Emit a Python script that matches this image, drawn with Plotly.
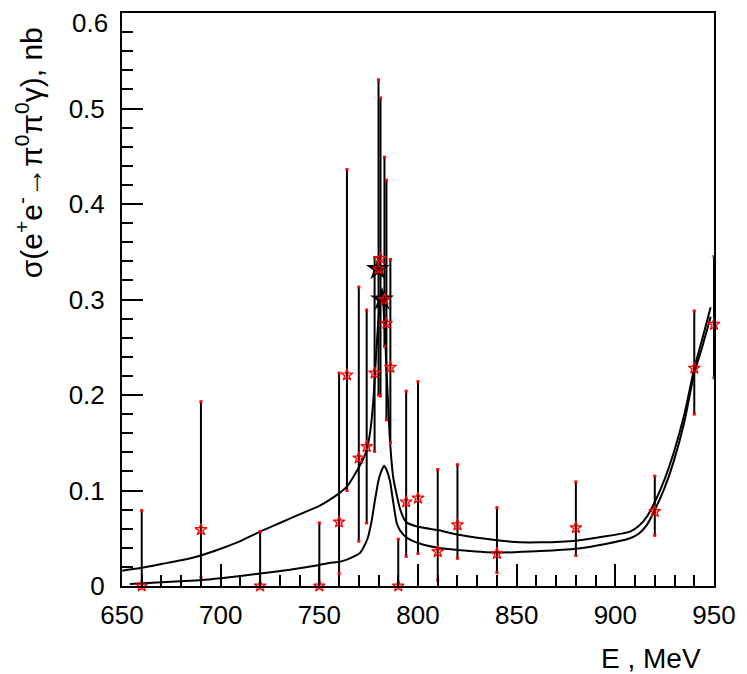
import plotly.graph_objects as go

# measured points: energy (MeV), cross section (nb), upper/lower ends of error bars
energy = [660, 690, 720, 750, 760, 764, 770, 774, 778, 780, 781, 783, 784, 786,
          790, 794, 800, 810, 820, 840, 880, 920, 940, 950]
sigma = [0, 0.059, 0, 0, 0.067, 0.221, 0.134, 0.146, 0.223, 0.332, 0.343, 0.300, 0.275, 0.229,
         0, 0.088, 0.092, 0.036, 0.064, 0.034, 0.061, 0.078, 0.228, 0.274]
sigma_hi = [0.079, 0.193, 0.057, 0.066, 0.223, 0.436, 0.313, 0.289, 0.344, 0.530, 0.511, 0.449, 0.425, 0.342,
            0.049, 0.204, 0.214, 0.122, 0.127, 0.082, 0.109, 0.115, 0.288, 0.345]
sigma_lo = [0, 0.009, 0, 0, 0.013, 0.100, 0.047, 0.066, 0.141, 0.200, 0.199, 0.251, 0.174, 0.150,
            0, 0.031, 0.034, 0.006, 0.029, 0.014, 0.032, 0.053, 0.180, 0.218]

# two large black stars near the omega peak
energy_b = [779.7, 781.8]
sigma_b = [0.332, 0.300]

# upper fit curve
e_up = [650, 660, 670, 680, 690, 700, 710, 720, 730, 740, 750, 755, 760, 764, 770, 774, 776,
        777.4, 778, 779, 780, 781, 782, 783, 784, 785, 785.8, 787.5, 791, 794, 800, 810, 820,
        840, 852, 862, 880, 895, 907.5, 912, 916, 920, 925, 929.5, 935, 940, 944, 948.3]
s_up = [0.016, 0.019, 0.023, 0.027, 0.032, 0.039, 0.047, 0.057, 0.066, 0.075, 0.084, 0.090, 0.097, 0.104,
        0.124, 0.142, 0.165, 0.195, 0.215, 0.250, 0.280, 0.298, 0.300, 0.275, 0.228, 0.185, 0.152, 0.113,
        0.080, 0.067, 0.062, 0.0586, 0.054, 0.048, 0.0457, 0.0457, 0.0475, 0.052, 0.057, 0.063, 0.0726,
        0.088, 0.112, 0.139, 0.180, 0.228, 0.258, 0.292]

# lower fit curve
e_lo = [654, 670, 689.5, 700, 720, 735, 750, 755, 760.5, 765.5, 770.6, 772.3, 774.5, 776.5, 778.2,
        779.9, 780.7, 782, 782.8, 784, 785.8, 787.5, 789.2, 791, 794, 800, 810, 820, 840, 862, 880,
        895, 907.5, 912, 916, 920, 925, 929.5, 935, 940, 944, 948.3]
s_lo = [0.002, 0.004, 0.006, 0.008, 0.013, 0.017, 0.022, 0.024, 0.0255, 0.029, 0.0345, 0.040, 0.050,
        0.068, 0.090, 0.110, 0.116, 0.123, 0.126, 0.122, 0.110, 0.087, 0.066, 0.058, 0.051, 0.045,
        0.040, 0.0377, 0.035, 0.0366, 0.039, 0.044, 0.050, 0.055, 0.064, 0.0796, 0.103, 0.130, 0.172,
        0.223, 0.250, 0.282]

x_ticks = [650, 700, 750, 800, 850, 900, 950]
y_ticks = [0, 0.1, 0.2, 0.3, 0.4, 0.5, 0.6]
y_labels = ["0", "0.1", "0.2", "0.3", "0.4", "0.5", "0.6"]

err_plus = [h - s for h, s in zip(sigma_hi, sigma)]
err_minus = [s - l for s, l in zip(sigma, sigma_lo)]

fig = go.Figure()

fig.add_trace(go.Scatter(x=e_up, y=s_up, mode="lines", line_shape="spline",
                         line=dict(color="black", width=2, smoothing=0.5), showlegend=False))
fig.add_trace(go.Scatter(x=e_lo, y=s_lo, mode="lines", line_shape="spline",
                         line=dict(color="black", width=2, smoothing=0.5), showlegend=False))

# error bars
fig.add_trace(go.Scatter(
    x=energy, y=sigma, mode="markers",
    marker=dict(size=1, color="rgba(0,0,0,0)"),
    error_y=dict(type="data", symmetric=False, array=err_plus, arrayminus=err_minus,
                 color="black", thickness=2, width=0),
    showlegend=False, cliponaxis=False))

# red dots at bar ends
ends_x = energy + [e for e, l in zip(energy, sigma_lo) if l > 0]
ends_y = sigma_hi + [l for l in sigma_lo if l > 0]
fig.add_trace(go.Scatter(x=ends_x, y=ends_y, mode="markers",
                         marker=dict(symbol="square", size=3, color="red"),
                         showlegend=False, cliponaxis=False))

# black stars
fig.add_trace(go.Scatter(x=energy_b, y=sigma_b, mode="markers",
                         marker=dict(symbol="star", size=18, color="black"),
                         showlegend=False, cliponaxis=False))

# red stars
fig.add_trace(go.Scatter(x=energy, y=sigma, mode="markers",
                         marker=dict(symbol="star", size=9, color="rgba(255,0,0,0.3)",
                                     line=dict(color="red", width=1.2)),
                         showlegend=False, cliponaxis=False))

base_font = "Liberation Sans, Arial, sans-serif"
axis_font = dict(family=base_font, size=26, color="black")

fig.update_xaxes(range=[650, 950], tickvals=x_ticks, ticks="inside", ticklen=22, tickwidth=2,
                 tickcolor="black", showline=True, linewidth=2, linecolor="black", mirror=True,
                 showgrid=False, zeroline=False, tickfont=axis_font, ticklabelstandoff=5,
                 automargin=False,
                 minor=dict(dtick=10, ticks="inside", ticklen=11, tickwidth=2, tickcolor="black",
                            showgrid=False))
# the top label is drawn a little lower, as an annotation
fig.update_yaxes(range=[0, 0.6], tickvals=y_ticks, ticktext=y_labels[:-1] + [""], ticks="inside",
                 ticklen=21, tickwidth=2, tickcolor="black", showline=True, linewidth=2,
                 linecolor="black", mirror=True, showgrid=False, zeroline=False, tickfont=axis_font,
                 ticklabelstandoff=10, automargin=False,
                 minor=dict(dtick=0.02, ticks="inside", ticklen=11, tickwidth=2, tickcolor="black",
                            showgrid=False))

fig.add_annotation(text=y_labels[-1], xref="paper", yref="y", x=0, y=y_ticks[-1],
                   xanchor="right", yanchor="middle", xshift=-12, yshift=-10, showarrow=False,
                   font=axis_font)
fig.add_annotation(
    text="σ(e<sup>+</sup>e<sup>-</sup>→π<sup>0</sup>π<sup>0</sup>γ), nb",
    xref="paper", yref="paper", x=-0.157, y=0.978, xanchor="center", yanchor="top",
    textangle=-90, showarrow=False, font=dict(family=base_font, size=30, color="black"))
fig.add_annotation(
    text="E , MeV", xref="paper", yref="paper", x=0.981, y=-0.126,
    xanchor="right", yanchor="middle", showarrow=False,
    font=dict(family=base_font, size=28, color="black"))

# the page adds an 8 px body margin, so the plot box is shifted by that much
fig.update_layout(
    width=747, height=674,
    margin=dict(l=114, r=41, t=5, b=96, autoexpand=False),
    plot_bgcolor="white", paper_bgcolor="white",
    font=dict(family=base_font, color="black"),
    showlegend=False,
)

fig.write_html("out.html")
